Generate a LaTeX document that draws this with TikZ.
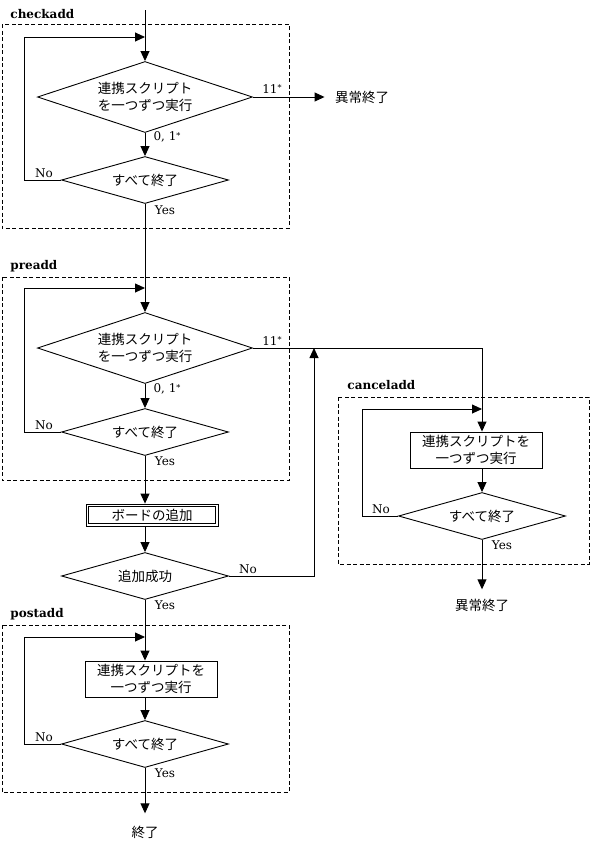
\documentclass[tikz,border=0pt]{standalone}
\usepackage{fontspec}
\setmainfont{DejaVu Serif}
\newfontfamily\jp{Noto Sans CJK JP}
\usetikzlibrary{shapes.geometric,arrows.meta}
\newcommand{\jpf}{\jp\fontsize{13.5}{17}\selectfont}
\newcommand{\myast}{\raisebox{2.5pt}{\fontsize{8}{8}\selectfont *}}
\begin{document}
\begin{tikzpicture}[x=1pt,y=-1pt,line width=0.9pt,
  dia/.style={diamond,draw,aspect=3,inner sep=0pt,font=\jpf,align=center},
  big/.style={dia,minimum width=215pt,minimum height=71pt},
  small/.style={dia,minimum width=167pt,minimum height=47pt},
  proc/.style={draw,rectangle,minimum width=132pt,minimum height=36pt,inner sep=0pt,font=\jpf,align=center},
  dbl/.style={draw,rectangle,line width=0.8pt,minimum width=132pt,minimum height=22pt,inner sep=0pt,font=\jpf},
  arr/.style={-{Triangle[length=10pt,width=9pt]}},
  frame/.style={dash pattern=on 4pt off 2.5pt,line width=0.8pt},
  lab/.style={font=\fontsize{12}{14}\selectfont,inner sep=0pt},
  ttl/.style={font=\bfseries\fontsize{12}{15}\selectfont,inner sep=0pt,anchor=west},
  txt/.style={font=\jpf,inner sep=0pt}]
\useasboundingbox (0,0) rectangle (590,852);

% frames
\draw[frame] (2,24) rectangle (289,228);
\draw[frame] (2,277) rectangle (289,480);
\draw[frame] (2,625) rectangle (289,792);
\draw[frame] (338,397) rectangle (589,564);
\node[ttl] (t1) at (10,14) {checkadd};
\node[ttl] (t2) at (10,266) {preadd};
\node[ttl] (t3) at (10,614) {postadd};
\node[ttl] (t4) at (347,385) {canceladd};

% checkadd
\coordinate (s0) at (145,10);
\coordinate (j1) at (145,37);
\node[big] (c1) at (145,97) {連携スクリプト\\を一つずつ実行};
\node[small] (c2) at (145,180) {すべて終了};
\node[txt] (e1) at (362,97) {異常終了};
\draw[arr] (s0) -- (c1.north);
\draw[arr] (c2.west) -- ++(-37,0) |- (j1);
\draw[arr] (c1.south) -- (c2.north);
\draw[arr] (c1.east) -- ([xshift=-10pt]e1.west);
\node[lab] (l1) at (272,89) {11\myast};
\node[lab] (l2) at (167,137) {0, 1\myast};
\node[lab] (l3) at (44,173) {No};
\node[lab] (l4) at (165,210) {Yes};

% preadd
\coordinate (j2) at (145,288);
\node[big] (p1) at (145,348) {連携スクリプト\\を一つずつ実行};
\node[small] (p2) at (145,432) {すべて終了};
\draw[arr] (c2.south) -- (p1.north);
\draw[arr] (p2.west) -- ++(-37,0) |- (j2);
\draw[arr] (p1.south) -- (p2.north);
\node[lab] (l5) at (272,341) {11\myast};
\node[lab] (l6) at (167,389) {0, 1\myast};
\node[lab] (l7) at (44,425) {No};
\node[lab] (l8) at (165,461) {Yes};

% add
\node[dbl] (b1) at (152,515) {ボードの追加};
\draw[line width=0.8pt] ([shift={(3pt,-3pt)}]b1.north west) rectangle ([shift={(-3pt,3pt)}]b1.south east);
\node[small] (a1) at (145,576) {追加成功};
\draw[arr] (p2.south) -- (p2.south |- b1.north);
\draw[arr] (a1.north |- b1.south) -- (a1.north);
\coordinate (m1) at (314,348);
\draw[arr] (a1.east) -| (m1);
\node[lab] (l9) at (248,569) {No};
\node[lab] (l10) at (165,605) {Yes};

% canceladd
\coordinate (j3) at (482,409);
\node[proc] (k1) at (476,450) {連携スクリプトを\\一つずつ実行};
\node[small] (k2) at (482,516) {すべて終了};
\node[txt] (e2) at (482,605) {異常終了};
\draw[arr] (p1.east) -| (k2.north |- k1.north);
\draw[arr] (k2.west) -- ++(-36,0) |- (j3);
\draw[arr] (k2.north |- k1.south) -- (k2.north);
\draw[arr] (k2.south) -- ([yshift=9pt]e2.north);
\node[lab] (l11) at (381,509) {No};
\node[lab] (l12) at (502,545) {Yes};

% postadd
\coordinate (j4) at (145,637);
\node[proc] (q1) at (151,679) {連携スクリプトを\\一つずつ実行};
\node[small] (q2) at (145,744) {すべて終了};
\node[txt] (e3) at (145,832) {終了};
\draw[arr] (a1.south) -- (a1.south |- q1.north);
\draw[arr] (q2.west) -- ++(-37,0) |- (j4);
\draw[arr] (q2.north |- q1.south) -- (q2.north);
\draw[arr] (q2.south) -- ([yshift=12pt]e3.north);
\node[lab] (l13) at (44,737) {No};
\node[lab] (l14) at (165,773) {Yes};
\end{tikzpicture}
\end{document}
